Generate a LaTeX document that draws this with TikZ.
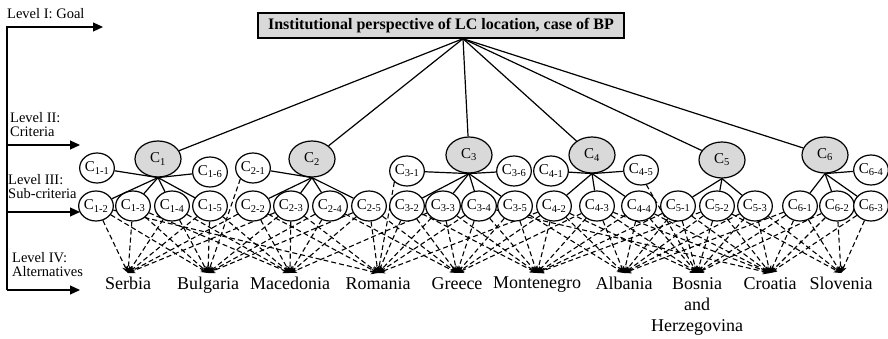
\documentclass[tikz,border=0pt]{standalone}
\usepackage{fontspec}
\setmainfont{Liberation Serif}
\usetikzlibrary{shapes.geometric, arrows.meta, backgrounds}

\begin{document}
\begin{tikzpicture}[x=1pt, y=-1pt,
    goalbox/.style={draw, line width=1.4pt, fill=critGray, minimum width=366pt, minimum height=25pt, inner sep=2pt, font=\fontsize{16}{16}\selectfont\bfseries},
    crit/.style={ellipse, draw, line width=1.2pt, fill=critGray, minimum width=46pt, minimum height=36pt, inner sep=0pt, font=\fontsize{15}{15}\selectfont},
    sub/.style={ellipse, draw, line width=1.2pt, fill=white, minimum width=33pt, minimum height=30pt, inner sep=0pt, font=\fontsize{15}{15}\selectfont},
    alt/.style={anchor=north, inner sep=4pt, align=center, font=\fontsize{18}{21}\selectfont},
    lvl/.style={anchor=north west, inner sep=0pt, align=left, font=\fontsize{14.5}{14.5}\selectfont},
    treeline/.style={line width=1.2pt},
    altarrow/.style={dash pattern=on 5pt off 3pt, line width=1.1pt, -{Stealth[length=7pt, width=6pt]}},
    levelarrow/.style={line width=1.2pt, -{Triangle[length=10pt, width=9pt]}}
]

% Define fill colour
\colorlet{critGray}{black!15}

\useasboundingbox (0,0) rectangle (888,339);

% --- LEVEL LABELS AND AXIS ---
    \node[lvl] (lvlgoal) at (7,8) {Level I: Goal};
    \node[lvl] (lvlcrit) at (10,112) {Level II:\\Criteria};
    \node[lvl] (lvlsub) at (8,174) {Level III:\\Sub-criteria};
    \node[lvl] (lvlalt) at (12,252) {Level IV:\\Alternatives};

    \coordinate (axtop) at (7,27);
    \coordinate (axbot) at (7,290);
    \coordinate (goalend) at (103,27);
    \coordinate (critend) at (80,145);
    \coordinate (subend) at (80,212);
    \coordinate (altend) at (80,290);

    \draw[levelarrow] (axbot) -- (axtop) -- (goalend);
    \draw[levelarrow] (axtop |- critend) -- (critend);
    \draw[levelarrow] (axtop |- subend) -- (subend);
    \draw[levelarrow] (axbot) -- (altend);

% --- LEVEL I: GOAL ---
    \node[goalbox] (goal) at (441,25.5) {Institutional perspective of LC location, case of BP};
    \coordinate (hub) at ([xshift=22pt]goal.south);

% --- LEVEL II: CRITERIA ---
    \foreach \i/\x/\y in {1/158/159, 2/312/159, 3/469/155, 4/592/155, 5/722/160, 6/825/155}
    \node[crit] (c\i) at (\x,\y) {C\textsubscript{\i}};

    \foreach \i in {1,...,6}
    \draw[treeline] (hub) -- (c\i);

% --- LEVEL III: SUB-CRITERIA ---
% upper row
    \foreach \n/\x/\y in {1-1/97/168, 1-6/210/172, 2-1/253/168, 3-1/407/171, 3-6/514/171, 4-1/551/171, 4-5/641/170, 6-4/871/170}
    \node[sub] (c\n) at (\x,\y) {C\textsubscript{\n}};

% lower row
    \foreach \n/\x in {1-2/96, 1-3/133, 1-4/172, 1-5/210, 2-2/253, 2-3/291, 2-4/330, 2-5/369,
        3-2/407, 3-3/443, 3-4/479, 3-5/515, 4-2/554, 4-3/597, 4-4/639,
        5-1/678, 5-2/717, 5-3/755, 6-1/800, 6-2/837, 6-3/871}
    \node[sub] (c\n) at (\x,206) {C\textsubscript{\n}};

    \foreach \i/\subs in {1/{1-1,1-6,1-2,1-3,1-4,1-5}, 2/{2-1,2-2,2-3,2-4,2-5}, 3/{3-1,3-6,3-2,3-3,3-4,3-5},
        4/{4-1,4-5,4-2,4-3,4-4}, 5/{5-1,5-2,5-3}, 6/{6-4,6-1,6-2,6-3}}
    \foreach \s in \subs
    \draw[treeline] (c\i.south) -- (c\s);

% --- LEVEL IV: ALTERNATIVES ---
    \foreach \name/\label/\x in {serbia/Serbia/128, bulgaria/Bulgaria/208, macedonia/Macedonia/290,
        romania/Romania/378, greece/Greece/457, montenegro/Montenegro/537, albania/Albania/624,
        bosnia/{Bosnia\\and\\Herzegovina}/697, croatia/Croatia/770, slovenia/Slovenia/841}
    \node[alt] (\name) at (\x,273) {\label};

% dashed links (kept under the circles)
    \begin{pgfonlayer}{background}
    \foreach \name/\subs in {serbia/{1-2,1-3,1-4,1-5,2-2,2-3},
        bulgaria/{1-2,1-3,1-4,1-5,2-3,2-4,2-5},
        macedonia/{1-3,1-4,1-5,2-2,2-3,2-4,2-5,3-3},
        romania/{1-2,2-2,2-3,2-5,3-2,3-3,3-4,4-2},
        greece/{2-4,2-5,3-2,3-3,3-4,3-5,4-2,4-3},
        montenegro/{3-2,3-3,3-4,3-5,4-2,4-3,4-4,5-1,5-2},
        albania/{3-5,4-2,4-3,4-4,5-1,5-2,5-3,6-1},
        bosnia/{4-2,4-3,4-4,5-1,5-2,5-3,6-1,6-2},
        croatia/{3-4,4-3,4-4,5-1,5-2,5-3,6-1,6-2,6-3},
        slovenia/{5-2,5-3,6-1,6-2,6-3}}
    \foreach \s in \subs
    \draw[altarrow] (c\s) -- (\name.north);

    \draw[altarrow] (c2-1.south west) -- (bulgaria.north);
    \draw[altarrow] (c3-1.south west) -- (romania.north);
    \draw[altarrow] (c4-5.-70) -- (bosnia.north);
    \end{pgfonlayer}

\end{tikzpicture}
\end{document}
